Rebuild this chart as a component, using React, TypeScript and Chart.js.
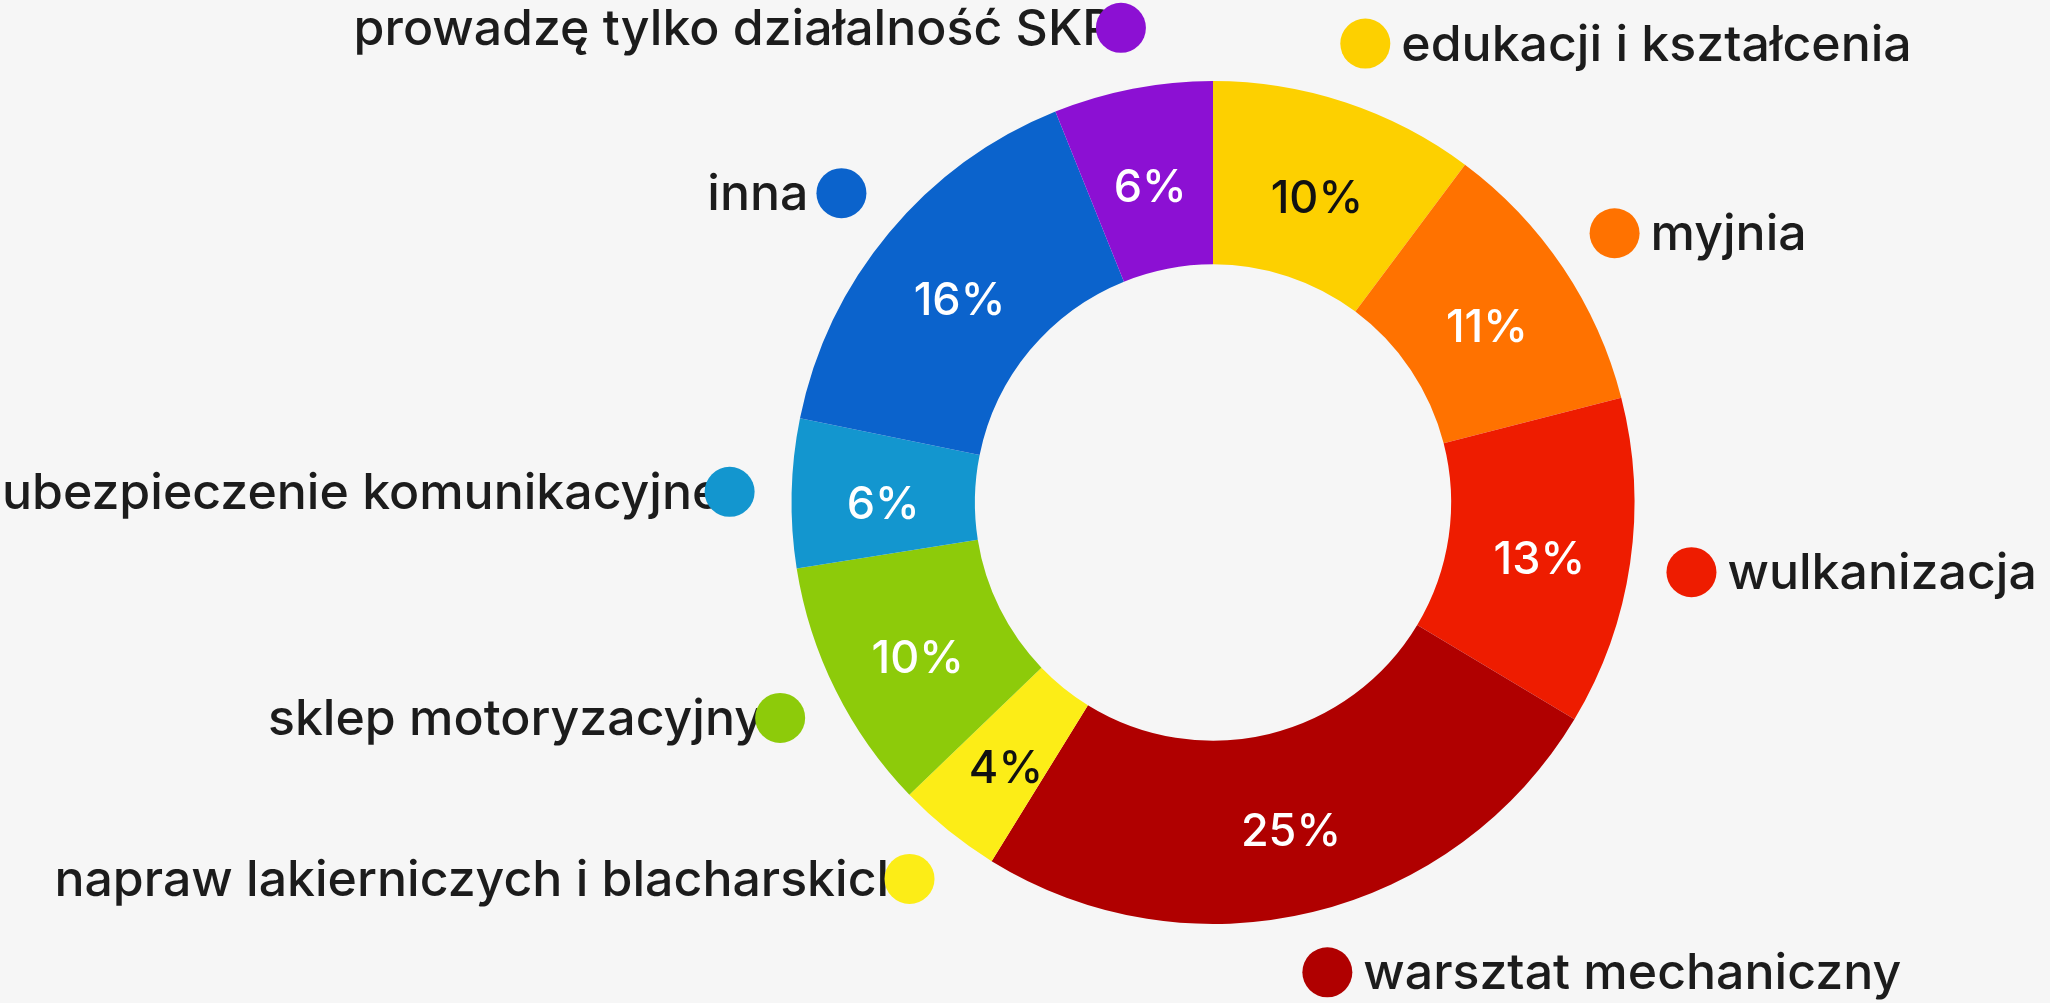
import React, { useEffect, useRef } from "react";
import { Chart, registerables } from "chart.js";

Chart.register(...registerables);

const categories: string[] = [
  "edukacji i kształcenia",
  "myjnia",
  "wulkanizacja",
  "warsztat mechaniczny",
  "napraw lakierniczych i blacharskich",
  "sklep motoryzacyjny",
  "ubezpieczenie komunikacyjne",
  "inna",
  "prowadzę tylko działalność SKP",
];

const shares: number[] = [10.2, 10.8, 12.6, 25.2, 4.0, 9.7, 5.7, 15.7, 6.1];

const colors: string[] = [
  "#fdd000",
  "#ff7200",
  "#ee1c00",
  "#b00000",
  "#fced17",
  "#8dcb0a",
  "#1396cf",
  "#0b63cc",
  "#8c10d3",
];

const darkLabelOn: boolean[] = [true, false, false, false, true, false, false, false, false];

const LABEL_FONT = '500 50px Inter, "Noto Sans", sans-serif';
const PCT_FONT = '500 45px Inter, "Noto Sans", sans-serif';

const labelPlugin = {
  id: "outerLabels",
  afterDatasetsDraw(chart: any) {
    const ctx: CanvasRenderingContext2D = chart.ctx;
    const meta = chart.getDatasetMeta(0);
    const data = chart.data.datasets[0].data as number[];
    const total = data.reduce((a, b) => a + b, 0);
    meta.data.forEach((arc: any, i: number) => {
      const p = arc.getProps(["x", "y", "startAngle", "endAngle", "innerRadius", "outerRadius"], true);
      const mid = (p.startAngle + p.endAngle) / 2;
      const rMid = (p.innerRadius + p.outerRadius) / 2;
      // percentage inside the ring
      ctx.save();
      ctx.font = PCT_FONT;
      ctx.textAlign = "center";
      ctx.textBaseline = "middle";
      ctx.fillStyle = darkLabelOn[i] ? "#111111" : "#ffffff";
      const pct = Math.round((data[i] / total) * 100) + "%";
      ctx.fillText(pct, p.x + Math.cos(mid) * rMid, p.y + Math.sin(mid) * rMid + 10);
      ctx.restore();

      // outer label with dot
      const rDot = p.outerRadius + 62;
      const dx = p.x + Math.cos(mid) * rDot;
      const dy = p.y + Math.sin(mid) * rDot;
      const right = Math.cos(mid) >= 0;
      const text = categories[i];
      ctx.save();
      ctx.font = LABEL_FONT;
      ctx.textBaseline = "middle";
      ctx.fillStyle = "#1c1c1c";
      const w = ctx.measureText(text).width;
      ctx.textAlign = "left";
      if (right) {
        ctx.fillText(text, dx + 36, dy + 2);
      } else {
        ctx.fillText(text, dx - 37 - 0.96 * w, dy + 2);
      }
      ctx.beginPath();
      ctx.arc(dx, dy, 25, 0, Math.PI * 2);
      ctx.fillStyle = colors[i];
      ctx.fill();
      ctx.restore();
    });
  },
};

export default function App() {
  const ref = useRef<HTMLCanvasElement | null>(null);
  useEffect(() => {
    document.body.style.margin = "0";
    document.body.style.background = "#f6f6f6";
    if (!ref.current) return;
    const chart = new Chart(ref.current, {
      type: "doughnut",
      data: {
        labels: categories,
        datasets: [
          {
            data: shares,
            backgroundColor: colors,
            borderWidth: 0,
          },
        ],
      },
      options: {
        responsive: false,
        animation: false,
        cutout: "56.5%",
        layout: { padding: { top: 81, bottom: 79, left: 376, right: 0 } },
        plugins: {
          legend: { display: false },
          tooltip: { enabled: false },
        },
      },
      plugins: [labelPlugin],
    });
    return () => chart.destroy();
  }, []);
  return (
    <div style={{ position: "absolute", left: 0, top: 0, width: 2050, height: 1003, background: "#f6f6f6" }}>
      <canvas ref={ref} width={2050} height={1003} />
    </div>
  );
}
